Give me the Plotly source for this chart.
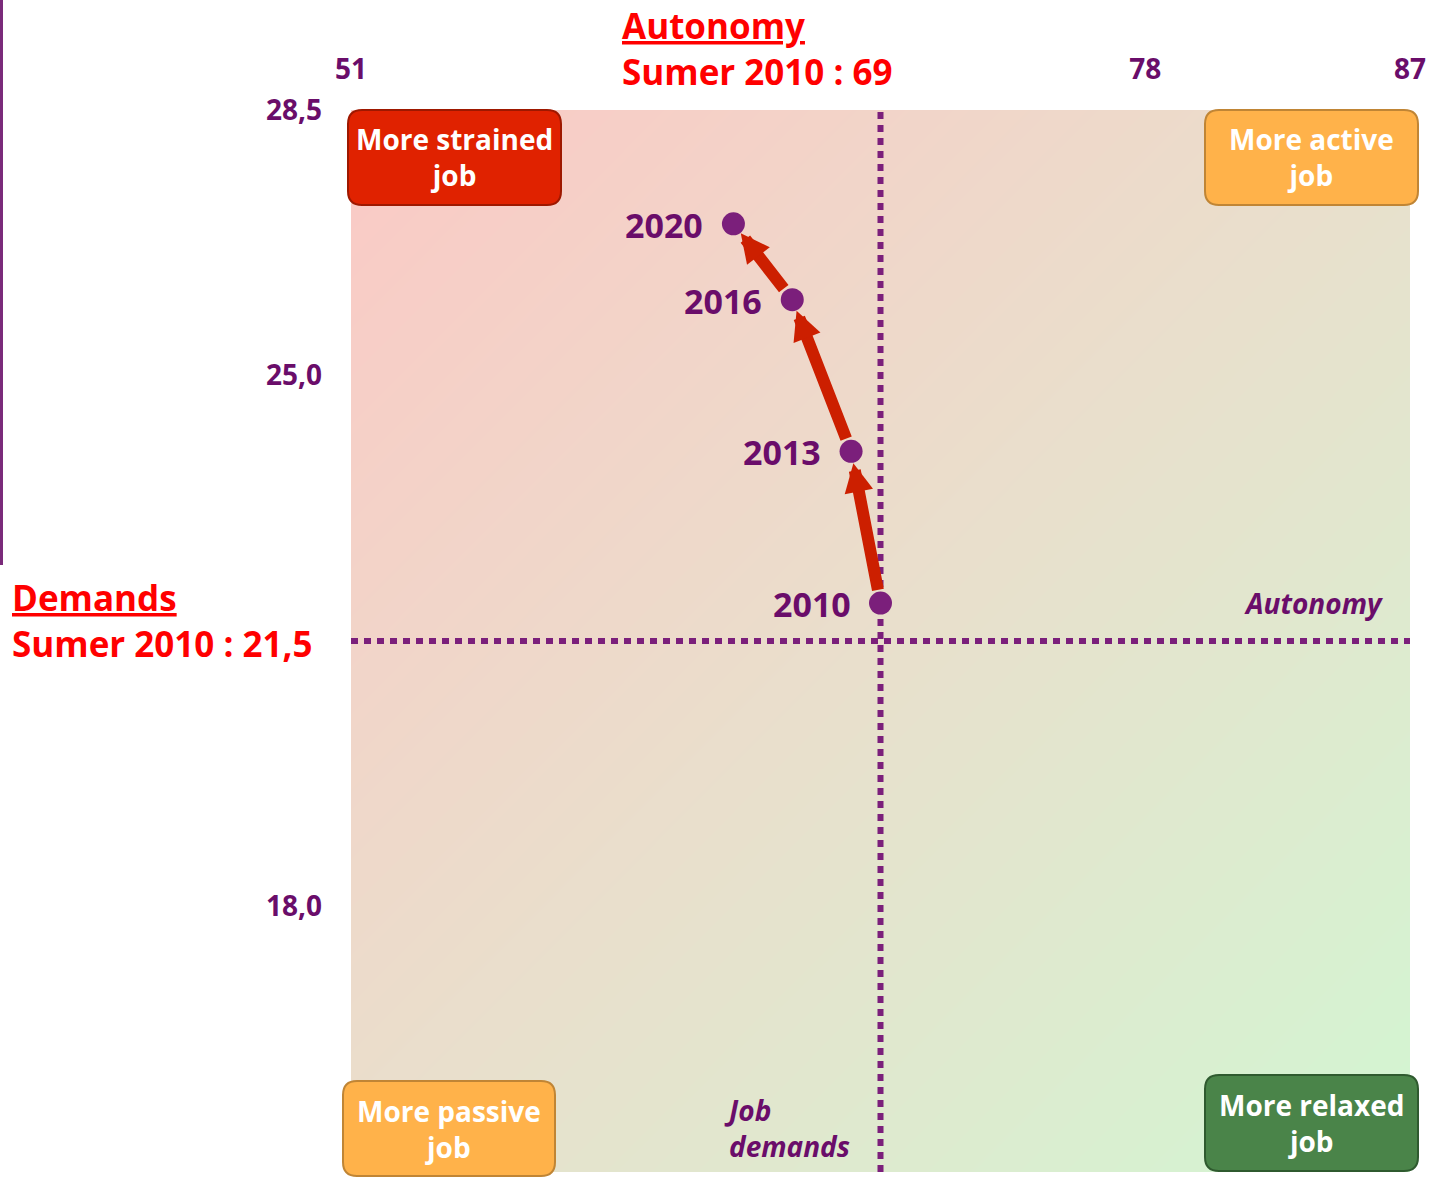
import plotly.graph_objects as go

# ---------------- data ----------------
years = ["2010", "2013", "2016", "2020"]
autonomy = [69.0, 68.0, 66.0, 64.0]
demands = [22.0, 24.0, 26.0, 27.0]

ref_autonomy = 69.0
ref_demands = 21.5

x_tickvals = [51, 78, 87]
x_ticktext = ["51", "78", "87"]
y_tickvals = [14.5, 18.0, 25.0, 28.5]
y_ticktext = ["14,5", "18,0", "25,0", "28,5"]
x_range = [51, 87]
y_range = [14.5, 28.5]

quadrant_labels = ["More strained<br>job", "More active<br>job", "More passive<br>job", "More relaxed<br>job"]

# ---------------- style / layout constants ----------------
W, H = 1430, 1187
ML, MR, MT, MB = 351, 20, 110, 15
PW, PH = W - ML - MR, H - MT - MB
FONT = "Open Sans, Lato, sans-serif"
PURPLE = "#6A0D6A"
DOT_PURPLE = "#7B1F7B"
RED = "#FF0000"
ARROW = "#CC1F00"

def px(xp):
    return (xp - ML) / PW

def py(yp):
    return (H - MB - yp) / PH

def rrect(x0, y0, x1, y1, r=14):
    X0, X1 = px(x0), px(x1)
    Y0, Y1 = py(y0), py(y1)
    rx, ry = r / PW, r / PH
    return (f"M {X0+rx},{Y0} L {X1-rx},{Y0} Q {X1},{Y0} {X1},{Y0-ry} "
            f"L {X1},{Y1+ry} Q {X1},{Y1} {X1-rx},{Y1} L {X0+rx},{Y1} "
            f"Q {X0},{Y1} {X0},{Y1+ry} L {X0},{Y0-ry} Q {X0},{Y0} {X0+rx},{Y0} Z")

box_geom = [(348, 110, 561, 205), (1205, 110, 1418, 205), (343, 1081, 555, 1176), (1205, 1075, 1418, 1171)]
box_fill = ["#E02200", "#FFB24A", "#FFB24A", "#4A8449"]
box_line = ["#9E1800", "#C08535", "#C08535", "#2F5A2F"]

fig = go.Figure()

fig.add_trace(go.Heatmap(
    x=x_range, y=y_range,
    z=[[0.5, 1.0], [0.0, 0.5]],
    colorscale=[[0, "#FBC9C5"], [0.5, "#E9DFCC"], [1, "#D2F6D2"]],
    zsmooth="best", showscale=False, hoverinfo="skip",
))

fig.add_trace(go.Scatter(x=[ref_autonomy, ref_autonomy], y=y_range, mode="lines",
                         line=dict(color=DOT_PURPLE, width=6, dash="7px,6px"),
                         hoverinfo="skip", showlegend=False))
fig.add_trace(go.Scatter(x=x_range, y=[ref_demands, ref_demands], mode="lines",
                         line=dict(color=DOT_PURPLE, width=6, dash="7px,6px"),
                         hoverinfo="skip", showlegend=False))

fig.add_trace(go.Scatter(x=autonomy, y=demands, mode="markers",
                         marker=dict(color=DOT_PURPLE, size=23),
                         showlegend=False))

annotations = []
for xv, yv, t in zip(autonomy, demands, years):
    annotations.append(dict(x=xv, y=yv, xref="x", yref="y", text=f"<b>{t}</b>",
                            showarrow=False, xanchor="right", yanchor="middle", xshift=-28, yshift=-1,
                            font=dict(family=FONT, size=34, color=PURPLE)))
for i in range(1, len(years)):
    annotations.append(dict(x=autonomy[i], y=demands[i], ax=autonomy[i-1], ay=demands[i-1],
                            xref="x", yref="y", axref="x", ayref="y", text="",
                            showarrow=True, arrowhead=2, arrowsize=0.48, arrowwidth=12,
                            arrowcolor=ARROW, standoff=12, startstandoff=12))
for (x0, y0, x1, y1), lab in zip(box_geom, quadrant_labels):
    annotations.append(dict(x=px((x0 + x1) / 2), y=py((y0 + y1) / 2), xref="paper", yref="paper",
                            xanchor="center", yanchor="middle", align="center",
                            text=f"<b>{lab}</b>", showarrow=False,
                            font=dict(family=FONT, size=28, color="white")))
annotations += [
    dict(x=px(620), y=py(48), xref="paper", yref="paper", xanchor="left", yanchor="middle", align="left",
         text="<b><u>Autonomy</u><br>Sumer 2010 : 69</b>", showarrow=False,
         font=dict(family=FONT, size=35, color=RED)),
    dict(x=px(10), y=py(620), xref="paper", yref="paper", xanchor="left", yanchor="middle", align="left",
         text="<b><u>Demands</u><br>Sumer 2010 : 21,5</b>", showarrow=False,
         font=dict(family=FONT, size=35, color=RED)),
    dict(x=px(1313), y=py(603), xref="paper", yref="paper", xanchor="center", yanchor="middle",
         text="<b><i>Autonomy</i></b>", showarrow=False, font=dict(family=FONT, size=28, color=PURPLE)),
    dict(x=px(722), y=py(1128), xref="paper", yref="paper", xanchor="left", yanchor="middle", align="left",
         text="<b><i>Job<br>demands</i></b>", showarrow=False, font=dict(family=FONT, size=28, color=PURPLE)),
]

shapes = []
for (x0, y0, x1, y1), fc, lc in zip(box_geom, box_fill, box_line):
    shapes.append(dict(type="path", xref="paper", yref="paper", path=rrect(x0, y0, x1, y1),
                       fillcolor=fc, line=dict(color=lc, width=2), layer="above"))
shapes.append(dict(type="line", xref="paper", yref="paper", x0=px(1.5), x1=px(1.5), y0=py(0), y1=py(565),
                   line=dict(color="#7A2A7A", width=3)))

fig.update_layout(
    width=W, height=H,
    margin=dict(l=ML, r=MR, t=MT, b=MB, autoexpand=False),
    paper_bgcolor="white", plot_bgcolor="white",
    showlegend=False,
    annotations=annotations,
    shapes=shapes,
    xaxis=dict(range=x_range, side="top", tickvals=x_tickvals,
               ticktext=[f"<b>{t}</b>" for t in x_ticktext],
               showgrid=False, zeroline=False, showline=False, ticks="",
               ticklabelstandoff=24, automargin=False,
               tickfont=dict(family=FONT, size=28, color=PURPLE), fixedrange=True),
    yaxis=dict(range=y_range, tickvals=y_tickvals,
               ticktext=[f"<b>{t}</b>" for t in y_ticktext],
               showgrid=False, zeroline=False, showline=False, ticks="",
               ticklabelstandoff=28, automargin=False,
               tickfont=dict(family=FONT, size=28, color=PURPLE), fixedrange=True),
    font=dict(family=FONT),
)

fig.write_html("out.html", config={"displayModeBar": False},
               post_script="document.body.style.margin='0';document.body.style.overflow='hidden';")
